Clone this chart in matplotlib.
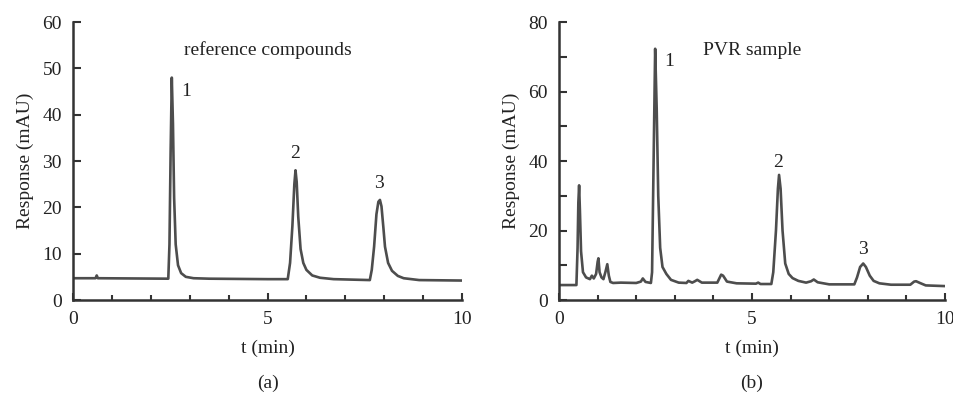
import matplotlib
matplotlib.use("Agg")
import matplotlib.pyplot as plt
from matplotlib.ticker import MultipleLocator

plt.rcParams['font.family'] = ['Liberation Serif', 'DejaVu Serif']
plt.rcParams['font.size'] = 14

# (a) reference compounds
t_a = [0, 0.58, 0.61, 0.64, 2.45, 2.48, 2.51, 2.54, 2.57, 2.60, 2.64, 2.70, 2.78,
       2.9, 3.1, 3.5, 5.0, 5.52, 5.58, 5.64, 5.69, 5.72, 5.75, 5.79, 5.85, 5.92,
       6.0, 6.15, 6.35, 6.7, 7.63, 7.68, 7.74, 7.80, 7.85, 7.89, 7.93, 7.98, 8.02,
       8.10, 8.2, 8.35, 8.5, 8.9, 10.0]
resp_a = [4.7, 4.7, 5.3, 4.7, 4.6, 12, 32, 48, 38, 22, 12, 7.5, 5.8,
          5.0, 4.7, 4.6, 4.5, 4.5, 8, 16, 25, 28, 25.5, 18, 11, 8,
          6.5, 5.3, 4.8, 4.5, 4.3, 6.5, 11.5, 18.5, 21.2, 21.6, 20.2, 15.5, 11.5,
          8, 6.3, 5.2, 4.7, 4.3, 4.2]

# (b) PVR sample
t_b = [0, 0.45, 0.48, 0.50, 0.52, 0.54, 0.57, 0.62, 0.7, 0.8, 0.85, 0.9, 0.96,
       1.0, 1.02, 1.05, 1.1, 1.15, 1.2, 1.25, 1.29, 1.33, 1.4, 1.6, 2.0, 2.12,
       2.17, 2.24, 2.38, 2.41, 2.45, 2.49, 2.53, 2.57, 2.62, 2.68, 2.78, 2.9,
       3.1, 3.3, 3.35, 3.45, 3.52, 3.58, 3.7, 4.1, 4.2, 4.25, 4.35, 4.6, 5.1,
       5.16, 5.22, 5.5, 5.55, 5.62, 5.67, 5.70, 5.74, 5.79, 5.86, 5.95, 6.05,
       6.2, 6.4, 6.53, 6.6, 6.7, 7.0, 7.65, 7.72, 7.8, 7.88, 7.95, 8.05, 8.15,
       8.3, 8.6, 9.1, 9.2, 9.25, 9.35, 9.5, 10.0]
resp_b = [4.3, 4.3, 15, 28, 33, 26, 14, 8, 6.5, 6.0, 7.0, 6.2, 7.5,
          11, 12, 8, 6.5, 6.0, 8, 10.3, 7, 5.2, 4.9, 5.0, 4.9, 5.3,
          6.2, 5.2, 4.9, 8, 40, 72.3, 55, 30, 15, 9.5, 7.5, 5.8,
          5.0, 4.9, 5.5, 5.0, 5.4, 5.8, 5.0, 5.0, 7.3, 7.0, 5.3, 4.8, 4.7,
          5.0, 4.6, 4.6, 8, 20, 32, 36, 32, 20, 10.5, 7.5, 6.3,
          5.5, 5.0, 5.4, 5.9, 5.1, 4.5, 4.5, 6.5, 9.5, 10.5, 9.5, 7, 5.5,
          4.8, 4.4, 4.4, 5.3, 5.4, 4.9, 4.2, 4.0]

peak_labels = ['1', '2', '3']
peak_pos_a = [(2.92, 45), (5.71, 31.7), (7.87, 25.2)]
peak_pos_b = [(2.85, 68.7), (5.68, 39.7), (7.87, 14.4)]

line_col = '#4d4d4d'
axis_col = '#333333'
text_col = '#222222'

fig = plt.figure(figsize=(9.54, 3.95), dpi=100)
ax1 = fig.add_axes([0.0765, 0.2405, 0.4078, 0.7038])
ax2 = fig.add_axes([0.586, 0.2405, 0.4046, 0.7038])


def style(ax, ymax, ymajor, yminor):
    ax.set_xlim(0, 10)
    ax.set_ylim(0, ymax)
    for s in ['top', 'right']:
        ax.spines[s].set_visible(False)
    for s in ['left', 'bottom']:
        ax.spines[s].set_linewidth(1.8)
        ax.spines[s].set_color(axis_col)
    ax.xaxis.set_major_locator(MultipleLocator(5))
    ax.xaxis.set_minor_locator(MultipleLocator(1))
    ax.yaxis.set_major_locator(MultipleLocator(ymajor))
    ax.yaxis.set_minor_locator(MultipleLocator(yminor))
    ax.tick_params(which='both', direction='in', width=1.5, color=axis_col,
                   labelcolor=text_col, labelsize=14)
    ax.tick_params(axis='x', which='major', length=5, pad=8)
    ax.tick_params(axis='x', which='minor', length=3.5)
    ax.tick_params(axis='y', which='both', length=6, pad=8)
    ax.set_xlabel('t (min)', fontsize=14, color=text_col, labelpad=8)
    ax.set_ylabel('Response (mAU)', fontsize=14, color=text_col, labelpad=6)


ax1.plot(t_a, resp_a, color=line_col, lw=1.9, solid_joinstyle='round')
style(ax1, 60, 10, 10)
ax1.text(5.0, 54, 'reference compounds', ha='center', va='center', fontsize=14, color=text_col)
for lab, (x, y) in zip(peak_labels, peak_pos_a):
    ax1.text(x, y, lab, ha='center', va='center', fontsize=14, color=text_col)

ax2.plot(t_b, resp_b, color=line_col, lw=1.9, solid_joinstyle='round')
style(ax2, 80, 20, 10)
ax2.text(5.0, 71.8, 'PVR sample', ha='center', va='center', fontsize=14, color=text_col)
for lab, (x, y) in zip(peak_labels, peak_pos_b):
    ax2.text(x, y, lab, ha='center', va='center', fontsize=14, color=text_col)

fig.text(268 / 954, 1 - 383 / 395, '(a)', ha='center', va='center', fontsize=14, color=text_col)
fig.text(752 / 954, 1 - 383 / 395, '(b)', ha='center', va='center', fontsize=14, color=text_col)

fig.savefig('out.png', dpi=100)
plt.close()
